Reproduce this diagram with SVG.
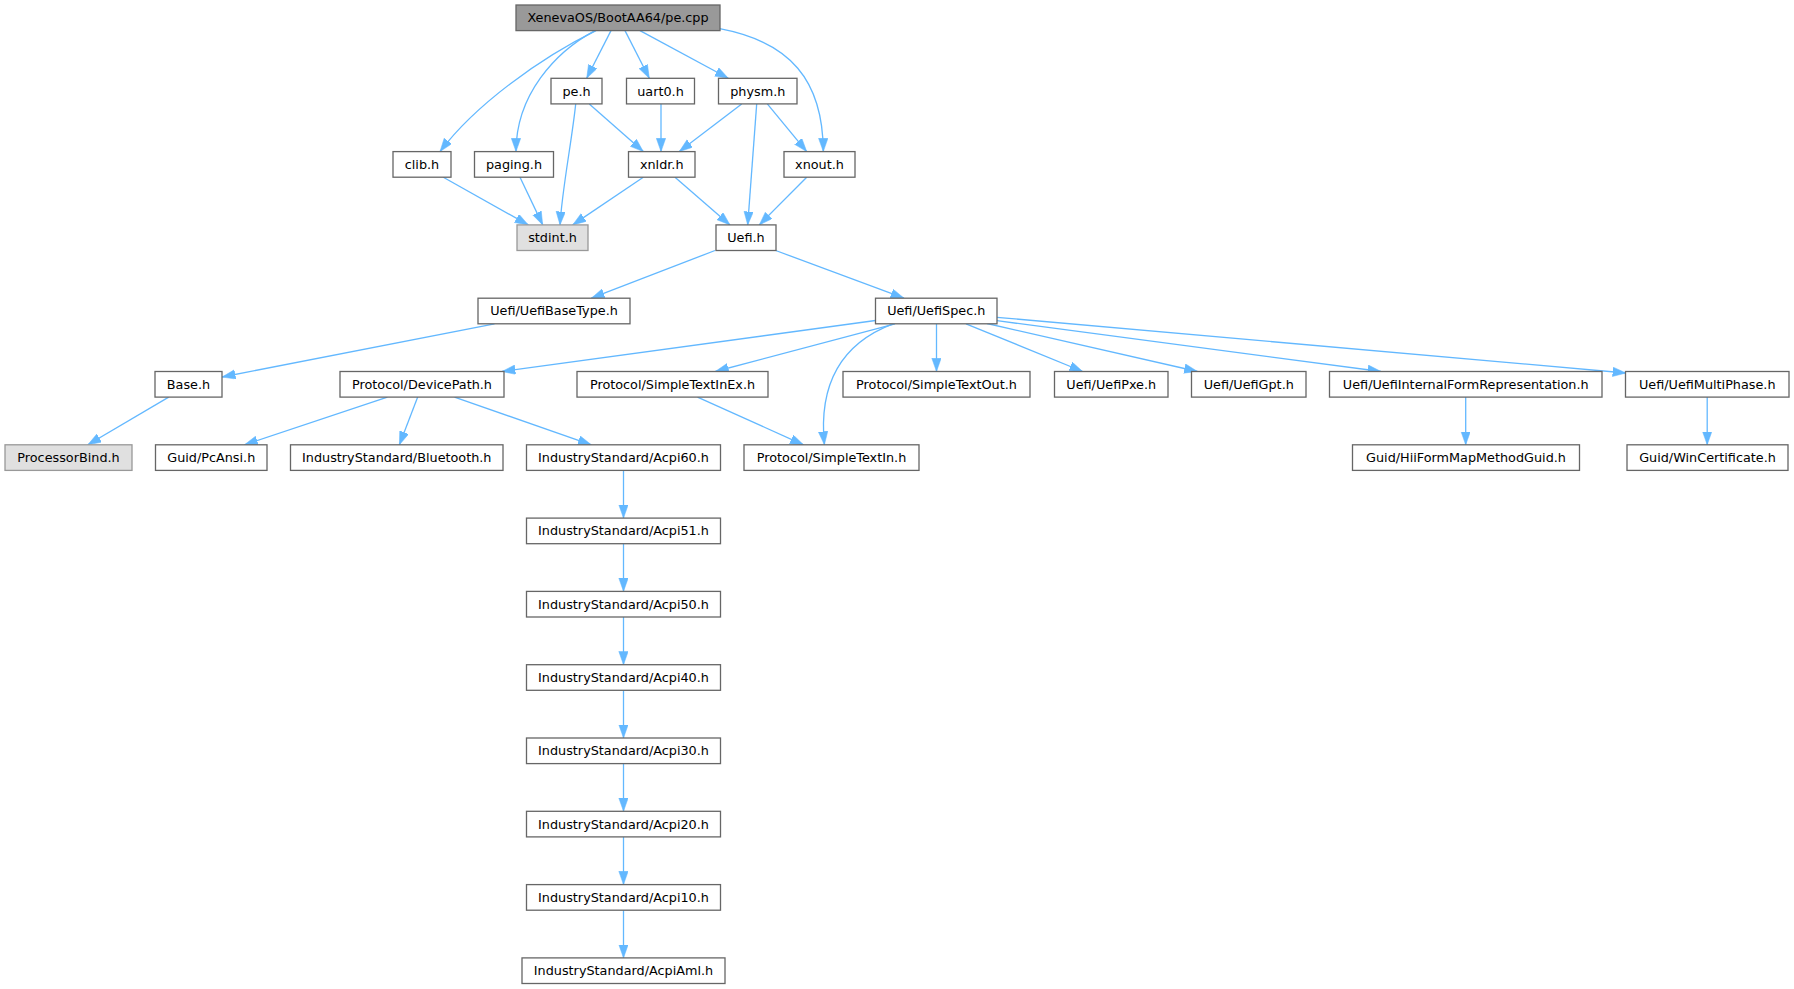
<svg xmlns="http://www.w3.org/2000/svg" width="1794" height="989" viewBox="0 0 1794 989">
<style>
.n rect{fill:#ffffff;stroke:#666666;stroke-width:1.3}
.n.root rect{fill:#999999;stroke:#666666}
.n.ext rect{fill:#e0e0e0;stroke:#999999}
.n text{font-family:"DejaVu Sans",sans-serif;font-size:12.8px;fill:#000000;text-anchor:middle}
.e path{fill:none;stroke:#63b8ff;stroke-width:1.3;marker-end:url(#ah)}
</style>
<defs>
<marker id="ah" markerUnits="userSpaceOnUse" markerWidth="14" markerHeight="10" refX="13.3" refY="4.7" orient="auto">
<path d="M0,0 L13.3,4.7 L0,9.4 z" fill="#63b8ff" stroke="#63b8ff" stroke-width="0.5"/>
</marker>
</defs>
<rect width="1794" height="989" fill="#ffffff"/>
<g id="edges" class="e">
<path d="M596,30.6 C540,58 475,105 440,151.6"/>
<path d="M595,30.6 C555,52 516,95 516,151.6"/>
<path d="M611,30.6 L586.7,78.3"/>
<path d="M625,30.6 L649.3,78.3"/>
<path d="M640,30.6 L728.3,78.3"/>
<path d="M719.7,28.7 C790,42 823,80 823.3,151.6"/>
<path d="M575.7,103.9 C572,140 562,190 560,224.9"/>
<path d="M589.3,103.9 L643.3,151.6"/>
<path d="M661,103.9 L661,151.6"/>
<path d="M741.7,103.9 L679.3,151.6"/>
<path d="M756.7,103.9 L747.7,224.9"/>
<path d="M767.3,103.9 L806.7,151.6"/>
<path d="M443.3,177.2 L528.3,224.9"/>
<path d="M520,177.2 L542.7,224.9"/>
<path d="M643.3,177.2 L572.7,224.9"/>
<path d="M675,177.2 L730,224.9"/>
<path d="M806.7,177.2 L759.3,224.9"/>
<path d="M715,250.5 L591.3,298.2"/>
<path d="M775.7,250.5 L904,298.2"/>
<path d="M494.5,323.8 L222.1,377"/>
<path d="M875.5,320.5 L502,371.5"/>
<path d="M895,323.8 L715.3,371.5"/>
<path d="M893,323.8 C845,342 818,380 824.4,444.8"/>
<path d="M936.5,323.8 L936.5,371.5"/>
<path d="M966,323.8 L1082.7,371.5"/>
<path d="M987,323.5 L1197.5,371.5"/>
<path d="M997,320.7 L1381,371.5"/>
<path d="M997,317.3 L1626,373"/>
<path d="M168.7,397.1 L87.8,444.8"/>
<path d="M387.4,397.1 L244.5,444.8"/>
<path d="M417.7,397.1 L399.4,444.8"/>
<path d="M454.5,397.1 L591.3,444.8"/>
<path d="M697.5,397.1 L803.5,444.8"/>
<path d="M1465.7,397.1 L1465.7,444.8"/>
<path d="M1707.2,397.1 L1707.2,444.8"/>
<path d="M623.5,470.4 L623.5,518.1"/>
<path d="M623.5,543.7 L623.5,591.4"/>
<path d="M623.5,617 L623.5,664.7"/>
<path d="M623.5,690.3 L623.5,738"/>
<path d="M623.5,763.6 L623.5,811.3"/>
<path d="M623.5,836.9 L623.5,884.6"/>
<path d="M623.5,910.2 L623.5,957.9"/>
</g>
<g id="node_pecpp" class="n root"><rect x="516" y="5" width="204" height="25.6"/><text x="618" y="22.2">XenevaOS/BootAA64/pe.cpp</text></g>
<g id="node_peh" class="n"><rect x="551" y="78.3" width="51" height="25.6"/><text x="576.5" y="95.5">pe.h</text></g>
<g id="node_uart0" class="n"><rect x="626.5" y="78.3" width="68" height="25.6"/><text x="660.5" y="95.5">uart0.h</text></g>
<g id="node_physm" class="n"><rect x="718.5" y="78.3" width="78.5" height="25.6"/><text x="757.75" y="95.5">physm.h</text></g>
<g id="node_clib" class="n"><rect x="393" y="151.6" width="58" height="25.6"/><text x="422" y="168.8">clib.h</text></g>
<g id="node_paging" class="n"><rect x="474.5" y="151.6" width="79" height="25.6"/><text x="514" y="168.8">paging.h</text></g>
<g id="node_xnldr" class="n"><rect x="628.5" y="151.6" width="66.5" height="25.6"/><text x="661.75" y="168.8">xnldr.h</text></g>
<g id="node_xnout" class="n"><rect x="784" y="151.6" width="71" height="25.6"/><text x="819.5" y="168.8">xnout.h</text></g>
<g id="node_stdint" class="n ext"><rect x="517" y="224.9" width="71" height="25.6"/><text x="552.5" y="242.1">stdint.h</text></g>
<g id="node_uefi" class="n"><rect x="716" y="224.9" width="60" height="25.6"/><text x="746" y="242.1">Uefi.h</text></g>
<g id="node_basetype" class="n"><rect x="478" y="298.2" width="152" height="25.6"/><text x="554" y="315.4">Uefi/UefiBaseType.h</text></g>
<g id="node_uefispec" class="n"><rect x="875.5" y="298.2" width="121.5" height="25.6"/><text x="936.25" y="315.4">Uefi/UefiSpec.h</text></g>
<g id="node_base" class="n"><rect x="155" y="371.5" width="67" height="25.6"/><text x="188.5" y="388.7">Base.h</text></g>
<g id="node_devicepath" class="n"><rect x="340" y="371.5" width="164" height="25.6"/><text x="422" y="388.7">Protocol/DevicePath.h</text></g>
<g id="node_stinex" class="n"><rect x="577" y="371.5" width="191" height="25.6"/><text x="672.5" y="388.7">Protocol/SimpleTextInEx.h</text></g>
<g id="node_stout" class="n"><rect x="843" y="371.5" width="187" height="25.6"/><text x="936.5" y="388.7">Protocol/SimpleTextOut.h</text></g>
<g id="node_pxe" class="n"><rect x="1054.5" y="371.5" width="113.5" height="25.6"/><text x="1111.25" y="388.7">Uefi/UefiPxe.h</text></g>
<g id="node_gpt" class="n"><rect x="1191.5" y="371.5" width="114.5" height="25.6"/><text x="1248.75" y="388.7">Uefi/UefiGpt.h</text></g>
<g id="node_ifr" class="n"><rect x="1329.5" y="371.5" width="272.5" height="25.6"/><text x="1465.75" y="388.7">Uefi/UefiInternalFormRepresentation.h</text></g>
<g id="node_multiphase" class="n"><rect x="1625.5" y="371.5" width="163.5" height="25.6"/><text x="1707.25" y="388.7">Uefi/UefiMultiPhase.h</text></g>
<g id="node_procbind" class="n ext"><rect x="5" y="444.8" width="127" height="25.6"/><text x="68.5" y="462">ProcessorBind.h</text></g>
<g id="node_pcansi" class="n"><rect x="155.5" y="444.8" width="111.5" height="25.6"/><text x="211.25" y="462">Guid/PcAnsi.h</text></g>
<g id="node_bluetooth" class="n"><rect x="290.5" y="444.8" width="212.5" height="25.6"/><text x="396.75" y="462">IndustryStandard/Bluetooth.h</text></g>
<g id="node_acpi60" class="n"><rect x="526.5" y="444.8" width="194" height="25.6"/><text x="623.5" y="462">IndustryStandard/Acpi60.h</text></g>
<g id="node_stin" class="n"><rect x="744" y="444.8" width="175" height="25.6"/><text x="831.5" y="462">Protocol/SimpleTextIn.h</text></g>
<g id="node_hiiform" class="n"><rect x="1352.5" y="444.8" width="227" height="25.6"/><text x="1466" y="462">Guid/HiiFormMapMethodGuid.h</text></g>
<g id="node_wincert" class="n"><rect x="1627" y="444.8" width="161" height="25.6"/><text x="1707.5" y="462">Guid/WinCertificate.h</text></g>
<g id="node_acpi51" class="n"><rect x="526.5" y="518.1" width="194" height="25.6"/><text x="623.5" y="535.3">IndustryStandard/Acpi51.h</text></g>
<g id="node_acpi50" class="n"><rect x="526.5" y="591.4" width="194" height="25.6"/><text x="623.5" y="608.6">IndustryStandard/Acpi50.h</text></g>
<g id="node_acpi40" class="n"><rect x="526.5" y="664.7" width="194" height="25.6"/><text x="623.5" y="681.9">IndustryStandard/Acpi40.h</text></g>
<g id="node_acpi30" class="n"><rect x="526.5" y="738" width="194" height="25.6"/><text x="623.5" y="755.2">IndustryStandard/Acpi30.h</text></g>
<g id="node_acpi20" class="n"><rect x="526.5" y="811.3" width="194" height="25.6"/><text x="623.5" y="828.5">IndustryStandard/Acpi20.h</text></g>
<g id="node_acpi10" class="n"><rect x="526.5" y="884.6" width="194" height="25.6"/><text x="623.5" y="901.8">IndustryStandard/Acpi10.h</text></g>
<g id="node_acpiaml" class="n"><rect x="522" y="957.9" width="203" height="25.6"/><text x="623.5" y="975.1">IndustryStandard/AcpiAml.h</text></g>
</svg>
